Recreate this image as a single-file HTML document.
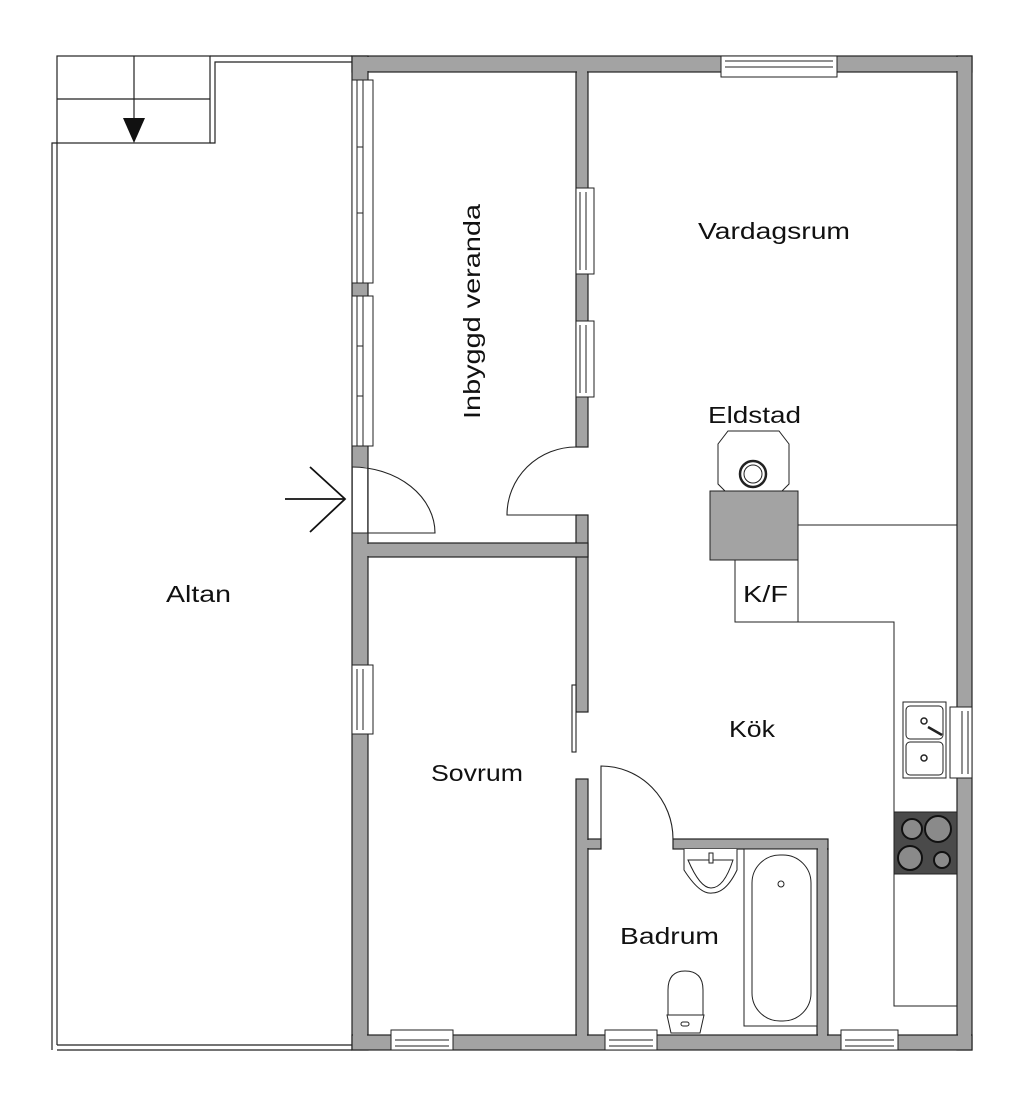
<!DOCTYPE html>
<html><head><meta charset="utf-8"><style>
html,body{margin:0;padding:0;background:#fff;}
svg{display:block;}
text{font-family:"Liberation Sans",sans-serif;fill:#111;}
</style></head><body>
<svg width="1024" height="1110" viewBox="0 0 1024 1110" xmlns="http://www.w3.org/2000/svg">
<rect width="1024" height="1110" fill="#fff"/>
<g fill="none" stroke="#222" stroke-width="1.2">
<!-- stairs -->
<rect x="57" y="56" width="153" height="87"/>
<line x1="57" y1="99" x2="210" y2="99"/>
<line x1="134" y1="56" x2="134" y2="125"/>
<!-- altan outline double -->
<polyline points="52,1050 52,143 57,143"/>
<polyline points="57,1045 57,143"/>
<line x1="57" y1="1050" x2="352" y2="1050"/>
<line x1="57" y1="1045" x2="352" y2="1045"/>
<polyline points="210,143 215,143 215,62 352,62"/>
<line x1="210" y1="56" x2="352" y2="56"/>
</g>
<polygon points="123,118 145,118 134,143" fill="#111"/>
<!-- entry arrow -->
<g fill="none" stroke="#111" stroke-width="1.8">
<line x1="285" y1="499" x2="345" y2="499"/>
<polyline points="310,467 345,499 310,532"/>
</g>
<!-- walls -->
<g fill="#a3a3a3" stroke="#222" stroke-width="1.2">
<rect x="352" y="56" width="620" height="16"/>
<rect x="352" y="56" width="16" height="994"/>
<rect x="957" y="56" width="15" height="994"/>
<rect x="352" y="1035" width="620" height="15"/>
<rect x="576" y="72" width="12" height="375"/>
<rect x="576" y="515" width="12" height="197"/>
<rect x="368" y="543" width="220" height="14"/>
<rect x="576" y="779" width="12" height="256"/>
<rect x="588" y="839" width="13" height="10"/>
<rect x="673" y="839" width="155" height="10"/>
<rect x="817" y="849" width="11" height="186"/>
</g>
<!-- clean wall joins -->
<g fill="#a3a3a3">
<rect x="353" y="57" width="618" height="14"/>
<rect x="353" y="57" width="14" height="992"/>
<rect x="958" y="57" width="13" height="992"/>
<rect x="353" y="1036" width="618" height="13"/>
<rect x="577" y="71" width="10" height="20"/>
<rect x="577" y="544" width="10" height="12"/>
<rect x="367" y="544" width="3" height="12"/>
<rect x="577" y="1030" width="10" height="6"/>
<rect x="818" y="840" width="9" height="12"/>
<rect x="818" y="1030" width="9" height="6"/>
<rect x="587" y="840" width="3" height="8"/>
</g>
<!-- door openings white -->
<rect x="353" y="467" width="14" height="66" fill="#fff"/>
<line x1="352" y1="467" x2="352" y2="533" stroke="#222" stroke-width="1"/>
<!-- windows -->
<g fill="#fff" stroke="#222" stroke-width="1">
<rect x="352" y="80" width="21" height="203"/>
<line x1="357" y1="80" x2="357" y2="283"/><line x1="363" y1="80" x2="363" y2="283"/>
<line x1="357" y1="147" x2="363" y2="147"/><line x1="357" y1="213" x2="363" y2="213"/>
<rect x="352" y="296" width="21" height="150"/>
<line x1="357" y1="296" x2="357" y2="446"/><line x1="363" y1="296" x2="363" y2="446"/>
<line x1="357" y1="346" x2="363" y2="346"/><line x1="357" y1="396" x2="363" y2="396"/>
<rect x="352" y="665" width="21" height="69"/>
<line x1="357" y1="669" x2="357" y2="730"/><line x1="363" y1="669" x2="363" y2="730"/>
<rect x="576" y="188" width="18" height="86"/>
<line x1="580" y1="192" x2="580" y2="270"/><line x1="586" y1="192" x2="586" y2="270"/>
<rect x="576" y="321" width="18" height="76"/>
<line x1="580" y1="325" x2="580" y2="393"/><line x1="586" y1="325" x2="586" y2="393"/>
<rect x="721" y="56" width="116" height="21"/>
<line x1="725" y1="61" x2="833" y2="61"/><line x1="725" y1="67" x2="833" y2="67"/>
<rect x="950" y="707" width="22" height="71"/>
<line x1="962" y1="711" x2="962" y2="774"/><line x1="968" y1="711" x2="968" y2="774"/>
<rect x="391" y="1030" width="62" height="20"/>
<line x1="395" y1="1040" x2="449" y2="1040"/><line x1="395" y1="1046" x2="449" y2="1046"/>
<rect x="605" y="1030" width="52" height="20"/>
<line x1="609" y1="1040" x2="653" y2="1040"/><line x1="609" y1="1046" x2="653" y2="1046"/>
<rect x="841" y="1030" width="57" height="20"/>
<line x1="845" y1="1040" x2="894" y2="1040"/><line x1="845" y1="1046" x2="894" y2="1046"/>
</g>
<!-- doors -->
<g fill="none" stroke="#222" stroke-width="1.1">
<path d="M352,467 A83 66 0 0 1 435,533 L352,533"/>
<path d="M576,447 A69 68 0 0 0 507,515 L576,515"/>
<path d="M601,839 L601,766 A72 73 0 0 1 673,839"/>
<rect x="572" y="685" width="4" height="67" fill="#fff"/>
</g>
<!-- fireplace -->
<g stroke="#222" stroke-width="1">
<polygon points="728,431 779,431 789,444 789,484 782,491 725,491 718,484 718,444" fill="#fff"/>
<circle cx="753" cy="474" r="13" fill="#fff" stroke-width="2.5"/>
<circle cx="753" cy="474" r="9" fill="#fff" stroke-width="1"/>
<rect x="710" y="491" width="88" height="69" fill="#a3a3a3"/>
<rect x="735" y="560" width="63" height="62" fill="#fff"/>
<g fill="none">
<line x1="798" y1="525" x2="957" y2="525"/>
<polyline points="798,622 894,622 894,1006 957,1006"/>
</g>
<!-- sink -->
<rect x="903" y="702" width="43" height="76" fill="#fff"/>
<rect x="906" y="706" width="37" height="33" rx="4" fill="#fff"/>
<rect x="906" y="742" width="37" height="33" rx="4" fill="#fff"/>
<circle cx="924" cy="721" r="3" fill="#fff" stroke-width="1.5"/>
<circle cx="924" cy="758" r="3" fill="#fff" stroke-width="1.5"/>
<line x1="928" y1="727" x2="942" y2="735" stroke-width="2.5"/>
<!-- stove -->
<rect x="894" y="812" width="63" height="62" fill="#4a4a4a"/>
<g fill="#8a8a8a" stroke="#111" stroke-width="2">
<circle cx="912" cy="829" r="10"/>
<circle cx="938" cy="829" r="13"/>
<circle cx="910" cy="858" r="12"/>
<circle cx="942" cy="860" r="8"/>
</g>
<!-- bath -->
<rect x="744" y="849" width="73" height="177" fill="#fff"/>
<rect x="752" y="855" width="59" height="166" rx="28" fill="#fff"/>
<circle cx="781" cy="884" r="3" fill="#fff"/>
<!-- basin -->
<path d="M684,849 L684,870 Q700,895 712,893 Q726,893 737,870 L737,849" fill="#fff"/>
<path d="M688,860 Q700,888 711,888 Q724,888 733,860 Z" fill="#fff"/>
<rect x="709" y="853" width="4" height="10" fill="#fff"/>
<!-- toilet -->
<path d="M668,1015 L668,990 Q668,971 685,971 Q703,971 703,990 L703,1015 Z" fill="#fff"/>
<path d="M667,1015 L704,1015 L700,1033 L671,1033 Z" fill="#fff"/>
<rect x="681" y="1022" width="8" height="4" rx="2" fill="#fff"/>
</g>
<!-- labels -->
<text x="166" y="602" font-size="23" textLength="65" lengthAdjust="spacingAndGlyphs">Altan</text>
<text x="698" y="239" font-size="23" textLength="152" lengthAdjust="spacingAndGlyphs">Vardagsrum</text>
<text x="708" y="423" font-size="23" textLength="93" lengthAdjust="spacingAndGlyphs">Eldstad</text>
<text x="743" y="602" font-size="23" textLength="45" lengthAdjust="spacingAndGlyphs">K/F</text>
<text x="729" y="737" font-size="23" textLength="46" lengthAdjust="spacingAndGlyphs">Kök</text>
<text x="431" y="781" font-size="23" textLength="92" lengthAdjust="spacingAndGlyphs">Sovrum</text>
<text x="620" y="944" font-size="23" textLength="99" lengthAdjust="spacingAndGlyphs">Badrum</text>
<text transform="translate(480,419) rotate(-90)" font-size="23" textLength="215" lengthAdjust="spacingAndGlyphs">Inbyggd veranda</text>
</svg>
</body></html>
